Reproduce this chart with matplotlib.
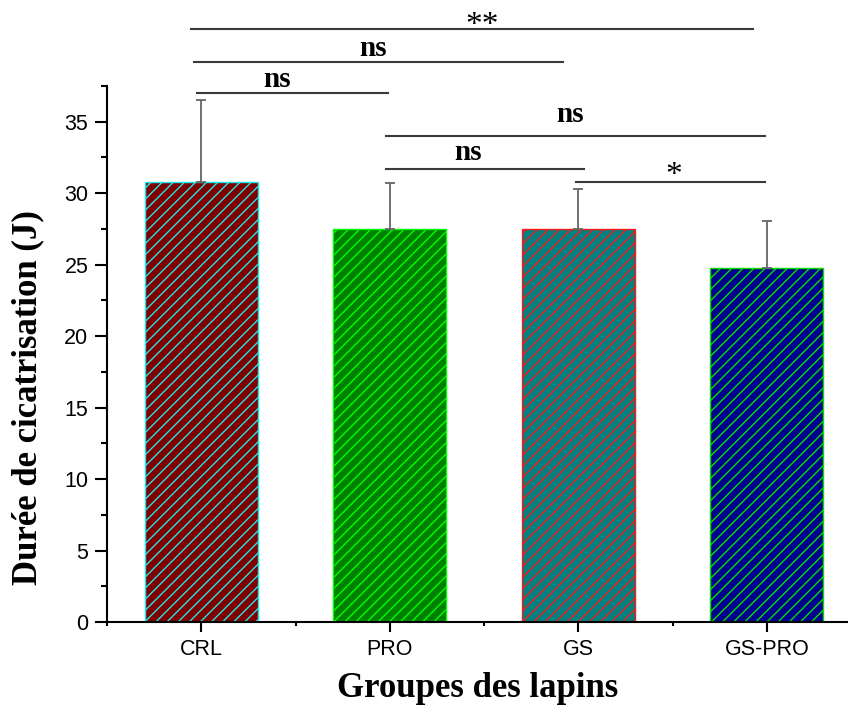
import matplotlib
matplotlib.use("Agg")
import matplotlib.pyplot as plt
from matplotlib.ticker import MultipleLocator, FixedLocator

# data
groups = ["CRL", "PRO", "GS", "GS-PRO"]
durations = [30.75, 27.5, 27.5, 24.8]
sd_upper = [5.75, 3.2, 2.8, 3.25]

# pairwise comparisons (bar index a, bar index b, label)
comp_pairs = [(0, 3), (0, 2), (0, 1), (1, 3), (1, 2), (2, 3)]
comp_labels = ["**", "ns", "ns", "ns", "ns", "*"]

# bracket layout: height, start / end offsets, text position
bracket_y = [41.49, 39.19, 36.98, 34.0, 31.67, 30.78]
bracket_dx = [(-0.056, -0.075), (-0.04, -0.08), (-0.02, -0.01),
              (-0.02, -0.01), (-0.02, 0.03), (-0.01, -0.01)]
label_x = [2.488, 1.91, 1.40, 2.955, 2.414, 3.505]
label_y = [41.15, 39.62, 37.45, 34.95, 32.35, 30.65]

face_colors = ["#800000", "#008000", "#008080", "#000090"]
hatch_colors = ["#1ee8e8", "#00ff00", "#ff1a1a", "#00e000"]

plt.rcParams["hatch.linewidth"] = 1.0
serif = "Liberation Serif"
sans = "Liberation Sans"

fig = plt.figure(figsize=(8.48, 7.06), dpi=100)
ax = fig.add_axes([107 / 848, 1 - 622 / 706, (861 - 107) / 848, (622 - 86) / 706])

x = list(range(1, len(groups) + 1))
bars = ax.bar(x, durations, width=0.6, color=face_colors,
              edgecolor=hatch_colors, linewidth=1.0, hatch="///", zorder=2)
ax.errorbar(x, durations, yerr=[[0] * len(sd_upper), sd_upper], fmt="none",
            ecolor="#666666", elinewidth=1.3, capsize=3.5, capthick=1.3, zorder=3)

for k, ((a, b), lab) in enumerate(zip(comp_pairs, comp_labels)):
    x0 = x[a] + bracket_dx[k][0]
    x1 = x[b] + bracket_dx[k][1]
    ax.plot([x0, x1], [bracket_y[k]] * 2, color="#3a3a3a", lw=1.5,
            clip_on=False, zorder=4)
    if lab == "ns":
        ax.text(label_x[k], label_y[k], lab, ha="center", va="baseline",
                fontsize=21, fontweight="bold", family=serif, clip_on=False)
    else:
        ax.text(label_x[k], label_y[k], lab, ha="center", va="baseline",
                fontsize=24, family=serif, clip_on=False)

ax.set_xlim(0.5, 4.5)
ax.set_ylim(0, 37.5)
ax.set_xticks(x)
ax.set_xticklabels(groups, family=sans, fontsize=15.5)
ax.xaxis.set_minor_locator(FixedLocator([0.5, 1.5, 2.5, 3.5, 4.5]))
ax.yaxis.set_major_locator(MultipleLocator(5))
ax.yaxis.set_minor_locator(MultipleLocator(2.5))
for lbl in ax.get_yticklabels():
    lbl.set_family(sans)
    lbl.set_fontsize(15.5)

ax.tick_params(axis="y", which="major", direction="out", length=8.5, width=1.5, pad=5)
ax.tick_params(axis="y", which="minor", direction="out", length=4.5, width=1.5)
ax.tick_params(axis="x", which="major", direction="out", length=7, width=1.5, pad=5.5)
ax.tick_params(axis="x", which="minor", direction="out", length=3, width=1.5)

for side in ["top", "right"]:
    ax.spines[side].set_visible(False)
for side in ["left", "bottom"]:
    ax.spines[side].set_linewidth(1.5)

fig.text(478 / 848, 1 - 697 / 706, "Groupes des lapins", ha="center", va="baseline",
         fontsize=25, fontweight="bold", family=serif)
fig.text(28 / 848, 1 - 398 / 706, "Durée de cicatrisation (J)", ha="center", va="center",
         rotation=90, fontsize=25, fontweight="bold", family=serif)

fig.savefig("out.png", dpi=100)
